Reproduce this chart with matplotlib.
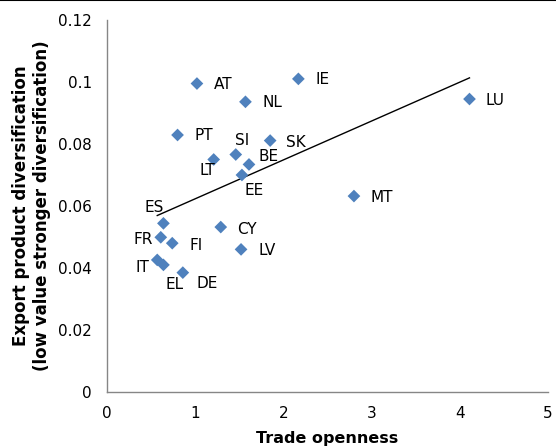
"""Export product diversification vs trade openness, euro area countries."""

import matplotlib

matplotlib.use("Agg")
import matplotlib.pyplot as plt
import numpy as np

countries = ["AT", "IE", "NL", "PT", "SI", "SK", "LT", "BE", "EE", "LU",
             "MT", "ES", "FR", "FI", "IT", "EL", "DE", "CY", "LV"]
openness = [1.02, 2.17, 1.57, 0.80, 1.46, 1.85, 1.21, 1.61, 1.53, 4.11,
            2.80, 0.64, 0.61, 0.74, 0.57, 0.64, 0.86, 1.29, 1.52]
diversification = [0.0995, 0.1010, 0.0936, 0.0829, 0.0766, 0.0811, 0.0750, 0.0734, 0.0700, 0.0945,
                   0.0632, 0.0544, 0.0499, 0.0480, 0.0426, 0.0410, 0.0385, 0.0532, 0.0460]

# label centre offsets in pixels relative to each marker
LABEL_OFFSETS = {
    "AT": (26, -1), "IE": (24, -1), "NL": (27, -1), "PT": (26, -1), "SI": (6, 14),
    "SK": (26, -2), "LT": (-6, -11), "BE": (20, 8), "EE": (12, -16), "LU": (26, -1),
    "MT": (28, -1), "ES": (-9, 16), "FR": (-18, -2), "FI": (24, -2), "IT": (-15, -8),
    "EL": (11, -20), "DE": (24, -11), "CY": (26, -2), "LV": (26, -1),
}

fig = plt.figure(figsize=(5.56, 4.46), dpi=100)
ax = fig.add_axes([0.1924, 0.1211, 0.7932, 0.8341])

ax.scatter(openness, diversification, marker="D", s=42, color="#4F81BD",
           edgecolors="none", zorder=3)

# linear trend over the data range
coef = np.polyfit(openness, diversification, 1)
xs = np.array([min(openness), max(openness)])
ax.plot(xs, np.polyval(coef, xs), color="black", lw=1.0, zorder=2)

for name, x, y in zip(countries, openness, diversification):
    dx, dy = LABEL_OFFSETS[name]
    ax.annotate(name, (x, y), xytext=(dx, dy), textcoords="offset pixels",
                ha="center", va="center", fontsize=11, color="black")

ax.set_xlim(0, 5)
ax.set_ylim(0, 0.12)
ax.set_xticks([0, 1, 2, 3, 4, 5])
ax.set_yticks([0, 0.02, 0.04, 0.06, 0.08, 0.1, 0.12])
ax.set_yticklabels(["0", "0.02", "0.04", "0.06", "0.08", "0.1", "0.12"])
ax.tick_params(length=0, labelsize=11)
ax.tick_params(axis="y", pad=11)
ax.tick_params(axis="x", pad=10)

for side in ("top", "right"):
    ax.spines[side].set_visible(False)
for side in ("left", "bottom"):
    ax.spines[side].set_color("#868686")
    ax.spines[side].set_linewidth(1.0)

ax.set_xlabel("Trade openness", fontsize=11.5, fontweight="bold", labelpad=7)
ax.set_ylabel("Export product diversification\n(low value stronger diversification)",
              fontsize=12, fontweight="bold", labelpad=5, linespacing=1.2)

# frame line along the top edge of the chart
fig.add_artist(plt.Line2D([0, 1], [0.999, 0.999], color="black", lw=1.5,
                          transform=fig.transFigure))

fig.savefig("out.png", dpi=100)
